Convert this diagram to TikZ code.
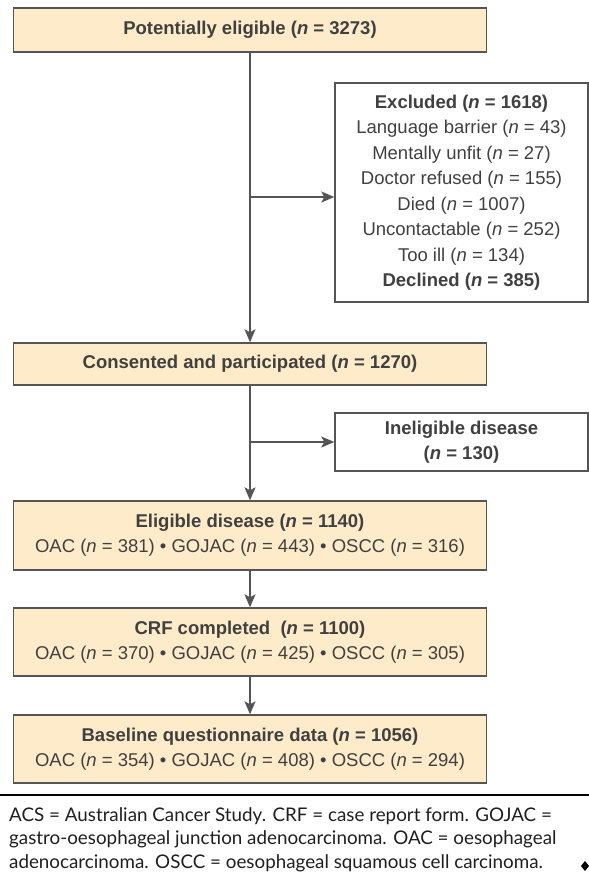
\documentclass[tikz,border=0pt]{standalone}
\usepackage{fontspec}
\setmainfont{Liberation Sans}
\newfontfamily\notefont{Lato}
\usetikzlibrary{arrows.meta}
\definecolor{boxfill}{RGB}{253,235,201}
\definecolor{edge}{RGB}{85,85,85}
\definecolor{ink}{RGB}{64,64,64}
\tikzset{
  flowbox/.style={draw=edge, line width=1.4bp, fill=boxfill, text=ink,
    minimum width=473bp, inner sep=0pt, align=center,
    font=\fontsize{18.5bp}{25bp}\selectfont},
  sidebox/.style={draw=edge, line width=1.4bp, fill=white, text=ink,
    minimum width=253bp, inner sep=0pt, align=center,
    font=\fontsize{18.5bp}{25.5bp}\selectfont},
  conn/.style={draw=edge, line width=1.3bp,
    -{Stealth[length=13bp,width=11bp,inset=3bp]}},
  noteline/.style={anchor=base west, inner sep=0pt, text=black!88,
    font=\notefont\fontsize{18.8bp}{23.5bp}\selectfont}
}
\newcommand{\nn}{\textit{n}}
\begin{document}
\begin{tikzpicture}[x=1bp, y=-1bp]
\useasboundingbox (0,0) rectangle (589,889);

% main column
\node[flowbox, minimum height=44bp] (pot) at (250,30)
  {\textbf{Potentially eligible (\nn{} = 3273)}};
\node[flowbox, minimum height=42bp] (cons) at (250,364)
  {\textbf{Consented and participated (\nn{} = 1270)}};
\node[flowbox, minimum height=69bp] (elig) at (250,535.5)
  {\textbf{Eligible disease (\nn{} = 1140)}\\
   OAC (\nn{} = 381) \textbullet{} GOJAC (\nn{} = 443) \textbullet{} OSCC (\nn{} = 316)};
\node[flowbox, minimum height=68bp] (crf) at (250,642)
  {\textbf{CRF completed\ \ (\nn{} = 1100)}\\
   OAC (\nn{} = 370) \textbullet{} GOJAC (\nn{} = 425) \textbullet{} OSCC (\nn{} = 305)};
\node[flowbox, minimum height=68bp] (base) at (250,749)
  {\textbf{Baseline questionnaire data (\nn{} = 1056)}\\
   OAC (\nn{} = 354) \textbullet{} GOJAC (\nn{} = 408) \textbullet{} OSCC (\nn{} = 294)};

% side boxes
\node[sidebox, minimum height=219bp] (excl) at (461.5,192.5)
  {\textbf{Excluded (\nn{} = 1618)}\\
   Language barrier (\nn{} = 43)\\
   Mentally unfit (\nn{} = 27)\\
   Doctor refused (\nn{} = 155)\\
   Died (\nn{} = 1007)\\
   Uncontactable (\nn{} = 252)\\
   Too ill (\nn{} = 134)\\
   \textbf{Declined (\nn{} = 385)}};
\node[sidebox, minimum height=58bp] (inel) at (461.5,442)
  {\textbf{Ineligible disease}\\ \textbf{(\nn{} = 130)}};

% connectors
\coordinate (j1) at (pot.south |- 0,197);
\coordinate (j2) at (cons.south |- inel.west);
\draw[conn] (pot.south) -- (cons.north);
\draw[conn] (j1) -- (j1 -| excl.west);
\draw[conn] (cons.south) -- (elig.north);
\draw[conn] (j2) -- (inel.west);
\draw[conn] (elig.south) -- (crf.north);
\draw[conn] (crf.south) -- (base.north);

% footnote
\coordinate (ruleL) at (0,795);
\coordinate (ruleR) at (589,795);
\draw[line width=2.2bp, black] (ruleL) -- (ruleR);
\node[noteline] (n1) at (9,821)
  {ACS = Australian Cancer Study. CRF = case report form. GOJAC =};
\node[noteline] (n2) at (9,844.5)
  {gastro-oesophageal junction adenocarcinoma. OAC = oesophageal};
\node[noteline] (n3) at (9,868)
  {adenocarcinoma. OSCC = oesophageal squamous cell carcinoma.};
\fill[black] (585,861) -- (589,866) -- (585,871) -- (581,866) -- cycle;
\end{tikzpicture}
\end{document}
